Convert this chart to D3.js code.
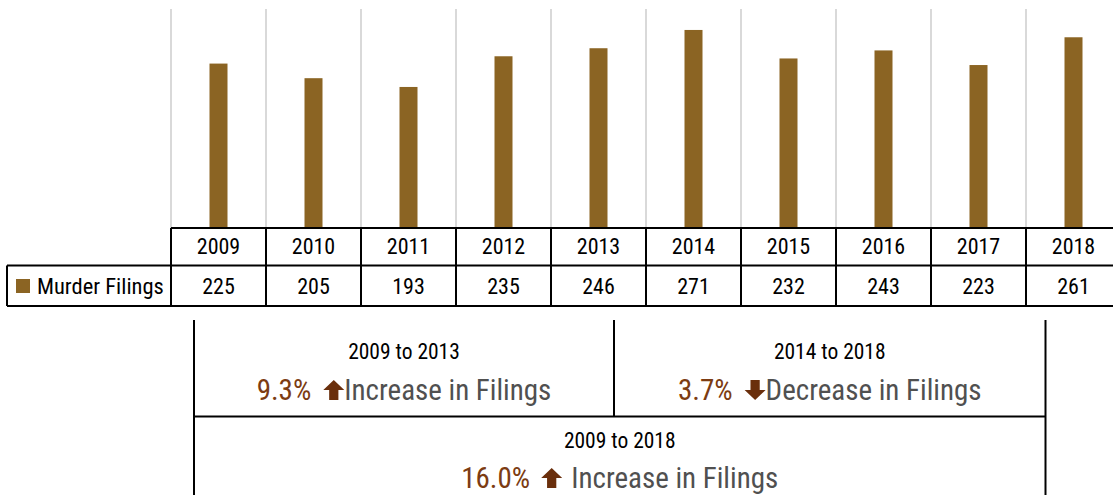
<!DOCTYPE html>
<html><head><meta charset="utf-8">
<script src="https://cdn.jsdelivr.net/npm/d3@7"></script>
<style>
html,body{margin:0;padding:0;background:#fff;}
svg{display:block;}
text{font-family:"Liberation Sans Narrow","Roboto Condensed","DejaVu Sans Condensed",sans-serif;}
</style></head>
<body>
<svg id="c" width="1113" height="495"></svg>
<script>
const years = ["2009","2010","2011","2012","2013","2014","2015","2016","2017","2018"];
const murderFilings = [225,205,193,235,246,271,232,243,223,261];
const seriesName = "Murder Filings";
const summaryPeriods = ["2009 to 2013","2014 to 2018","2009 to 2018"];
const summaryPercents = ["9.3%","3.7%","16.0%"];
const summaryDirections = ["up","down","up"];
const summaryLabels = ["Increase in Filings","Decrease in Filings","Increase in Filings"];

const svg = d3.select("#c");
const barColor = "#8b6423";
const pctColor = "#7c3c12";
const arrowColor = "#6a2f0c";

const x = d3.scaleBand().domain(years).range([171, 1121]).padding(0);
const y = d3.scaleLinear().domain([0, 312]).range([228, 0]);

// gridlines
svg.append("g").selectAll("line").data(years).join("line")
  .attr("x1", d => x(d)).attr("x2", d => x(d))
  .attr("y1", 9).attr("y2", 228)
  .attr("stroke", "#d9d9d9").attr("stroke-width", 2);

// bars
const bw = 18;
svg.append("g").selectAll("rect").data(murderFilings).join("rect")
  .attr("x", (d,i) => x(years[i]) + x.bandwidth()/2 - bw/2)
  .attr("width", bw)
  .attr("y", d => y(d))
  .attr("height", d => y(0) - y(d))
  .attr("fill", barColor);

// table
const tHead0 = 228, tHead1 = 265.5, tRow1 = 306;
const tbl = svg.append("g").attr("stroke", "#000").attr("stroke-width", 2).attr("fill", "none");
tbl.append("line").attr("x1", 171).attr("x2", 1121).attr("y1", tHead0).attr("y2", tHead0);
tbl.append("line").attr("x1", 7).attr("x2", 1121).attr("y1", tHead1).attr("y2", tHead1);
tbl.append("line").attr("x1", 7).attr("x2", 1121).attr("y1", tRow1).attr("y2", tRow1);
tbl.append("line").attr("x1", 7).attr("x2", 7).attr("y1", tHead1).attr("y2", tRow1);
tbl.selectAll("line.v").data(years.concat(["end"])).join("line").attr("class","v")
  .attr("x1", d => d === "end" ? 1121 : x(d)).attr("x2", d => d === "end" ? 1121 : x(d))
  .attr("y1", tHead0).attr("y2", tRow1);

svg.append("g").selectAll("text").data(years).join("text")
  .attr("x", d => x(d) + x.bandwidth()/2).attr("y", 253.5)
  .attr("text-anchor", "middle").attr("font-size", 22).attr("fill", "#000")
  .text(d => d);
svg.append("g").selectAll("text").data(murderFilings).join("text")
  .attr("x", (d,i) => x(years[i]) + x.bandwidth()/2).attr("y", 294)
  .attr("text-anchor", "middle").attr("font-size", 22).attr("fill", "#000")
  .text(d => d);

svg.append("rect").attr("x", 16).attr("y", 279).attr("width", 14).attr("height", 14).attr("fill", barColor);
svg.append("text").attr("x", 37).attr("y", 294).attr("font-size", 22.5).attr("fill", "#000").text(seriesName);

// summary boxes
const sb = svg.append("g").attr("stroke", "#000").attr("stroke-width", 2);
sb.append("line").attr("x1", 194).attr("x2", 194).attr("y1", 320).attr("y2", 495);
sb.append("line").attr("x1", 1045.5).attr("x2", 1045.5).attr("y1", 320).attr("y2", 495);
sb.append("line").attr("x1", 614).attr("x2", 614).attr("y1", 320).attr("y2", 416.5);
sb.append("line").attr("x1", 194).attr("x2", 1045.5).attr("y1", 416.5).attr("y2", 416.5);

const boxes = [
  {cx: (194+614)/2, y1: 359, y2: 400, g1: 12, g2: 0},
  {cx: (614+1045.5)/2, y1: 359, y2: 400, g1: 12, g2: 0},
  {cx: (194+1045.5)/2, y1: 448, y2: 488, g1: 11, g2: 9}
];

boxes.forEach((b, i) => {
  svg.append("text").attr("x", b.cx).attr("y", b.y1).attr("text-anchor", "middle")
    .attr("font-size", 21.5).attr("fill", "#000").text(summaryPeriods[i]);
  const g = svg.append("g");
  const pt = g.append("text").attr("y", b.y2).attr("font-size", 29).attr("fill", pctColor).text(summaryPercents[i]);
  const lt = g.append("text").attr("y", b.y2).attr("font-size", 29).attr("fill", "#505050").text(summaryLabels[i]);
  const pw = pt.node().getComputedTextLength();
  const lw = lt.node().getComputedTextLength();
  const aw = 21, ah = 20;
  const total = pw + b.g1 + aw + b.g2 + lw;
  const x0 = b.cx - total/2;
  pt.attr("x", x0);
  const ax = x0 + pw + b.g1;
  lt.attr("x", ax + aw + b.g2);
  const top = b.y2 - ah, bot = b.y2;
  let path;
  if (summaryDirections[i] === "up") {
    path = `M${ax+aw/2},${top} L${ax+aw},${top+ah*0.5} L${ax+aw*0.72},${top+ah*0.5} L${ax+aw*0.72},${bot} L${ax+aw*0.28},${bot} L${ax+aw*0.28},${top+ah*0.5} L${ax},${top+ah*0.5} Z`;
  } else {
    path = `M${ax+aw/2},${bot} L${ax+aw},${top+ah*0.5} L${ax+aw*0.72},${top+ah*0.5} L${ax+aw*0.72},${top} L${ax+aw*0.28},${top} L${ax+aw*0.28},${top+ah*0.5} L${ax},${top+ah*0.5} Z`;
  }
  g.append("path").attr("d", path).attr("fill", arrowColor);
});
</script>
</body></html>
